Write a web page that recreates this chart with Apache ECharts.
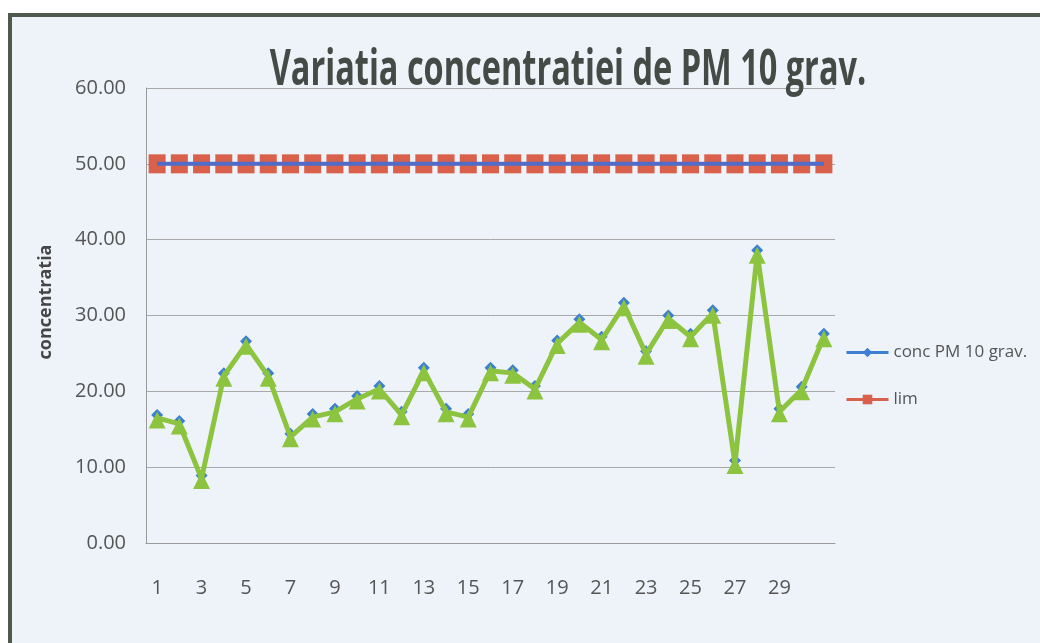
<!DOCTYPE html>
<html><head><meta charset="utf-8">
<script src="https://cdn.jsdelivr.net/npm/echarts@6/dist/echarts.min.js"></script>
<style>
html,body{margin:0;padding:0;background:#ffffff;width:1040px;height:643px;overflow:hidden;}
#frame{position:absolute;left:8px;top:13px;width:1100px;height:700px;background:#eef3fa;border-left:4px solid #4f5a4f;border-top:4px solid #4f5a4f;box-sizing:border-box;}
#chart{position:absolute;left:0;top:0;width:1040px;height:643px;}
</style></head>
<body>
<div id="frame"></div>
<div id="chart"></div>
<script>
const categories = ['1','2','3','4','5','6','7','8','9','10','11','12','13','14','15','16','17','18','19','20','21','22','23','24','25','26','27','28','29','30','31'];
const concValues = [16.5,15.7,8.5,22.0,26.2,22.0,14.0,16.6,17.3,19.0,20.3,16.9,22.7,17.3,16.6,22.7,22.4,20.3,26.3,29.1,26.8,31.3,24.9,29.6,27.2,30.3,10.5,38.2,17.3,20.2,27.2];
const limValues = [50,50,50,50,50,50,50,50,50,50,50,50,50,50,50,50,50,50,50,50,50,50,50,50,50,50,50,50,50,50,50];
const yTicks = {min:0, max:60, interval:10};
const titleText = 'Variatia concentratiei de PM 10 grav.';
const yName = 'concentratia';

const chart = echarts.init(document.getElementById('chart'));
const labelFont = '"Open Sans", sans-serif';
chart.setOption({
  animation:false,
  graphic:[
    {type:'text', x:568, y:71, scaleX:0.65, z:10,
      style:{text:titleText, font:'bold 50px "Open Sans", sans-serif', fill:'#454a46', align:'center', verticalAlign:'middle'}},
    {type:'text', x:46, y:302, rotation:Math.PI/2, z:10,
      style:{text:yName, font:'bold 18px "Open Sans", sans-serif', fill:'#454545', align:'center', verticalAlign:'middle'}}
  ],
  grid:{left:146, top:88, width:689, height:455},
  legend:{orient:'vertical', left:840, top:339, itemWidth:42, itemHeight:12, itemGap:30,
    textStyle:{fontFamily:labelFont, fontSize:17, color:'#555'},
    data:[
      {name:'conc PM 10 grav.', itemStyle:{color:'#3d7fd0'}, lineStyle:{color:'#3d7fd0', width:3}},
      {name:'lim', itemStyle:{color:'#d9604a'}, lineStyle:{color:'#d9604a', width:3}}
    ]},
  xAxis:{type:'category', data:categories, boundaryGap:true,
    axisLine:{lineStyle:{color:'#9a9a9a'}}, axisTick:{show:false},
    axisLabel:{interval:(i)=> i%2===0 && i<30, margin:35, fontFamily:labelFont, fontSize:20, color:'#555'}},
  yAxis:{type:'value', min:yTicks.min, max:yTicks.max, interval:yTicks.interval,
    axisLine:{show:true, lineStyle:{color:'#9a9a9a'}}, axisTick:{show:false},
    splitLine:{lineStyle:{color:'#a8a8a8'}},
    axisLabel:{formatter:(v)=>v.toFixed(2), margin:20, fontFamily:labelFont, fontSize:20, color:'#555'}},
  series:[
    {name:'lim', type:'line', data:limValues, symbol:'rect', symbolSize:[17,19], showAllSymbol:true,
      itemStyle:{color:'#d9604a'}, lineStyle:{color:'#d9604a', width:3}, z:3},
    {name:'limLine', type:'line', data:limValues, symbol:'none', silent:true,
      lineStyle:{color:'#4f6cc8', width:4}, z:4},
    {name:'conc PM 10 grav.', type:'line', data:concValues, symbol:'diamond', symbolSize:12, symbolOffset:[0,-3], showAllSymbol:true,
      itemStyle:{color:'#3d7fd0'}, lineStyle:{color:'#3d7fd0', width:3}, z:5},
    {name:'conc2', type:'line', data:concValues, symbol:'triangle', symbolSize:17, symbolOffset:[0,2], showAllSymbol:true,
      itemStyle:{color:'#8dc43f'}, lineStyle:{color:'#8dc43f', width:5}, z:6}
  ]
});
</script>
</body></html>
